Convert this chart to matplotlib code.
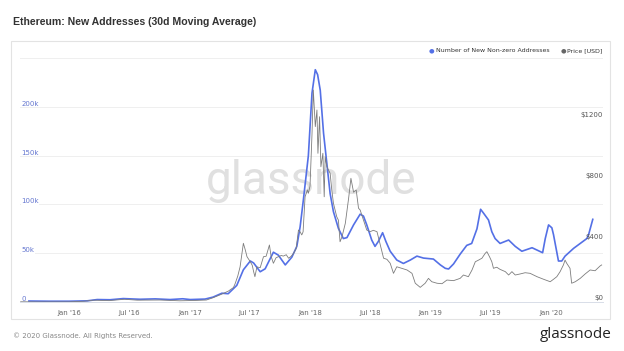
import matplotlib
matplotlib.use("Agg")
import matplotlib.pyplot as plt
import matplotlib.dates as mdates
import matplotlib.transforms as mtransforms
from matplotlib.patches import Rectangle
import pandas as pd

# ---------------- data ----------------
addr_dates = ["2015-09-01", "2015-11-01", "2016-01-01", "2016-02-25", "2016-03-26", "2016-05-04",
              "2016-06-13", "2016-08-03", "2016-09-18", "2016-11-02", "2016-12-10", "2017-01-02",
              "2017-02-16", "2017-03-12", "2017-04-08", "2017-04-27", "2017-05-23", "2017-06-12",
              "2017-07-03", "2017-07-13", "2017-08-02", "2017-08-17", "2017-09-11", "2017-09-26",
              "2017-10-17", "2017-11-06", "2017-11-21", "2017-12-01", "2017-12-11", "2017-12-26",
              "2018-01-06", "2018-01-16", "2018-01-23", "2018-01-31", "2018-02-10", "2018-02-20",
              "2018-03-02", "2018-03-12", "2018-03-27", "2018-04-11", "2018-04-22", "2018-05-12",
              "2018-06-01", "2018-06-11", "2018-06-21", "2018-07-06", "2018-07-16", "2018-07-26",
              "2018-08-08", "2018-08-18", "2018-08-31", "2018-09-20", "2018-10-10", "2018-10-31",
              "2018-11-20", "2018-12-10", "2019-01-09", "2019-01-30", "2019-02-14", "2019-02-24",
              "2019-03-11", "2019-03-31", "2019-04-20", "2019-05-05", "2019-05-21", "2019-06-01",
              "2019-06-10", "2019-06-25", "2019-07-05", "2019-07-15", "2019-07-30", "2019-08-25",
              "2019-09-14", "2019-10-04", "2019-11-04", "2019-12-06", "2019-12-14", "2019-12-24",
              "2020-01-03", "2020-01-08", "2020-01-23", "2020-02-02", "2020-02-12", "2020-03-09",
              "2020-03-29", "2020-04-18", "2020-04-23", "2020-05-06"]
addr_values = [1000, 800, 800, 1200, 2500, 2300,
               3500, 2800, 3200, 2500, 3300, 2500,
               3000, 5000, 9000, 8500, 17000, 33000,
               42000, 40000, 31000, 34000, 51000, 48000,
               38000, 46000, 57000, 77000, 105000, 150000,
               214000, 238000, 233000, 217000, 173000, 142000,
               111000, 92500, 75500, 65000, 66000, 79000,
               90000, 88000, 79000, 63500, 57000, 62000,
               71000, 62000, 52000, 43000, 39500, 43000,
               47000, 45000, 44000, 38000, 34500, 33800,
               39000, 49000, 58000, 60000, 75000, 95000,
               91000, 84000, 72000, 65000, 60000, 63500,
               57000, 52000, 55600, 50500, 65000, 79000,
               76000, 69000, 42000, 42000, 47000, 55000,
               60000, 65000, 68600, 84700]

price_dates = ["2015-08-07", "2015-10-01", "2016-01-01", "2016-02-15", "2016-03-15", "2016-05-01",
               "2016-06-17", "2016-07-25", "2016-10-01", "2016-12-01", "2017-01-15", "2017-02-20",
               "2017-03-12", "2017-04-08", "2017-04-28", "2017-05-13", "2017-05-18", "2017-05-26",
               "2017-06-02", "2017-06-12", "2017-06-18", "2017-06-23", "2017-07-03", "2017-07-09",
               "2017-07-13", "2017-07-17", "2017-07-23", "2017-08-02", "2017-08-12", "2017-08-20",
               "2017-08-30", "2017-09-04", "2017-09-11", "2017-09-19", "2017-09-26", "2017-10-05",
               "2017-10-11", "2017-10-20", "2017-10-27", "2017-11-04", "2017-11-11", "2017-11-19",
               "2017-11-26", "2017-12-01", "2017-12-06", "2017-12-10", "2017-12-16", "2017-12-23",
               "2017-12-26", "2017-12-31", "2018-01-06", "2018-01-10", "2018-01-16", "2018-01-21",
               "2018-01-24", "2018-01-29", "2018-02-02", "2018-02-08", "2018-02-12", "2018-02-15",
               "2018-02-20", "2018-02-25", "2018-03-02", "2018-03-07", "2018-03-12", "2018-03-22",
               "2018-03-27", "2018-04-01", "2018-04-07", "2018-04-17", "2018-04-27", "2018-05-04",
               "2018-05-12", "2018-05-20", "2018-05-27", "2018-06-01", "2018-06-11", "2018-06-21",
               "2018-07-01", "2018-07-11", "2018-07-22", "2018-08-01", "2018-08-11", "2018-08-21",
               "2018-08-31", "2018-09-10", "2018-09-20", "2018-10-05", "2018-10-21", "2018-11-05",
               "2018-11-15", "2018-11-30", "2018-12-15", "2018-12-25", "2019-01-04", "2019-01-20",
               "2019-02-04", "2019-02-19", "2019-03-11", "2019-03-31", "2019-04-10", "2019-04-25",
               "2019-05-06", "2019-05-16", "2019-05-26", "2019-06-05", "2019-06-15", "2019-06-20",
               "2019-06-28", "2019-07-05", "2019-07-10", "2019-07-20", "2019-07-30", "2019-08-15",
               "2019-08-25", "2019-09-04", "2019-09-14", "2019-09-29", "2019-10-14", "2019-10-29",
               "2019-11-19", "2019-12-09", "2019-12-29", "2020-01-08", "2020-01-18", "2020-01-28",
               "2020-02-07", "2020-02-12", "2020-02-17", "2020-02-27", "2020-03-03", "2020-03-14",
               "2020-03-29", "2020-04-13", "2020-04-28", "2020-05-13", "2020-05-28", "2020-06-02"]
price_values = [1.5, 0.7, 1, 5, 12, 9,
                18, 12, 13, 8, 10, 13,
                28, 52, 72, 95, 120, 170,
                230, 385, 340, 297, 264, 240,
                200, 166, 230, 225, 297, 300,
                374, 300, 254, 290, 297, 305,
                301, 310, 287, 300, 319, 350,
                472, 460, 440, 460, 690, 735,
                713, 760, 1100, 1390, 1150, 1259,
                975, 1215, 887, 975, 690, 953,
                887, 865, 844, 734, 647, 559,
                537, 395, 428, 516, 680, 811,
                720, 734, 615, 603, 538, 472,
                461, 470, 461, 374, 287, 280,
                254, 188, 231, 221, 210, 188,
                123, 96, 123, 155, 133, 123,
                120, 144, 140, 155, 177, 166,
                210, 264, 275, 287, 319, 330,
                297, 264, 221, 228, 214, 199,
                177, 199, 177, 184, 192, 188,
                166, 149, 133, 149, 166, 199,
                243, 275, 254, 221, 123, 133,
                155, 184, 210, 205, 236, 243]

left_ticks = [0, 50000, 100000, 150000, 200000]
left_labels = ["0", "50k", "100k", "150k", "200k"]
right_ticks = [0, 400, 800, 1200]
right_labels = ["$0", "$400", "$800", "$1200"]

title = "Ethereum: New Addresses (30d Moving Average)"
legend_addr = "Number of New Non-zero Addresses"
legend_price = "Price [USD]"

# ---------------- style ----------------
BLUE = "#5470e6"
GRAY = "#7d7d7d"
W, H = 624, 351

fig = plt.figure(figsize=(W / 100, H / 100), dpi=100)
fig.patch.set_facecolor("white")

def fx(px):
    return px / W

def fy(py):
    return 1 - py / H

# outer box
fig.patches.append(Rectangle((fx(11), fy(319)), fx(610) - fx(11), fy(41) - fy(319),
                             transform=fig.transFigure, fill=False,
                             edgecolor="#e3e3e3", linewidth=0.8, zorder=0))

L, R, T, B = 20, 603, 58, 302
ax = fig.add_axes([fx(L), fy(B), fx(R) - fx(L), fy(T) - fy(B)])
ax2 = ax.twinx()

ad = pd.to_datetime(addr_dates)
pdts = pd.to_datetime(price_dates)

ax.set_xlim(pd.Timestamp("2015-08-05"), pd.Timestamp("2020-06-06"))
ax.set_ylim(0, 250000)
ax2.set_ylim(0, 1600)

# watermark
fig.text(fx(311), fy(181), "glassnode", fontsize=33, color="#e0e0e0",
         family="Roboto", ha="center", va="center", zorder=0)

ax.set_zorder(2)
ax2.set_zorder(3)
ax.patch.set_visible(False)
ax2.patch.set_visible(False)

ax.plot(ad, addr_values, color=BLUE, linewidth=1.2, zorder=4)
ax2.plot(pdts, price_values, color=GRAY, linewidth=0.6, zorder=3)

# grid
ax.set_yticks([0, 50000, 100000, 150000, 200000, 250000])
ax.yaxis.grid(True, color="#efefef", linewidth=0.7)
ax.tick_params(axis="y", left=False, labelleft=False)
ax2.set_yticks([])
for a in (ax, ax2):
    for s in a.spines.values():
        s.set_visible(False)
ax.spines["bottom"].set_visible(True)
ax.spines["bottom"].set_color("#d8dde8")
ax.spines["bottom"].set_linewidth(0.7)

# x ticks
ax.xaxis.set_major_locator(mdates.MonthLocator(bymonth=[1, 7]))
ax.xaxis.set_major_formatter(mdates.DateFormatter("%b '%y"))
ax.tick_params(axis="x", length=0, pad=5.5, labelsize=5, labelcolor="#666666")
for lbl in ax.get_xticklabels():
    lbl.set_family("DejaVu Sans")

# left y labels (inside, above gridline)
trL = mtransforms.blended_transform_factory(ax.transAxes, ax.transData)
for v, s in zip(left_ticks, left_labels):
    ax.text(0.002, v, s, transform=trL, ha="left", va="bottom", fontsize=5,
            color="#6577d0", family="DejaVu Sans",
            bbox=dict(facecolor="white", edgecolor="none", pad=0.3), zorder=5)

trR = mtransforms.blended_transform_factory(ax2.transAxes, ax2.transData)
for v, s in zip(right_ticks, right_labels):
    ax2.text(1.0, v + 8, s, transform=trR, ha="right", va="bottom", fontsize=5,
             color="#555555", family="DejaVu Sans", zorder=5)

# title
fig.text(fx(13), fy(22), title, fontsize=7.6, fontweight="bold", color="#333333",
         family="Liberation Sans", ha="left", va="center")

# legend
fig.text(fx(431), fy(51), "\u25cf", fontsize=4.6, color=BLUE, ha="center", va="center",
         family="DejaVu Sans")
fig.text(fx(436), fy(51), legend_addr, fontsize=4.5, color="#333333", ha="left",
         va="center", family="DejaVu Sans")
fig.text(fx(563), fy(51), "\u25cf", fontsize=4.6, color="#666666", ha="center", va="center",
         family="DejaVu Sans")
fig.text(fx(567), fy(51), legend_price, fontsize=4.5, color="#333333", ha="left",
         va="center", family="DejaVu Sans")

# footer
fig.text(fx(13), fy(336), "\u00a9 2020 Glassnode. All Rights Reserved.", fontsize=5.0,
         color="#888888", ha="left", va="center", family="DejaVu Sans")
fig.text(fx(612), fy(335), "glassnode", fontsize=11, color="#222222", ha="right",
         va="center", family="Open Sans")

fig.savefig("out.png", dpi=100, facecolor="white")
